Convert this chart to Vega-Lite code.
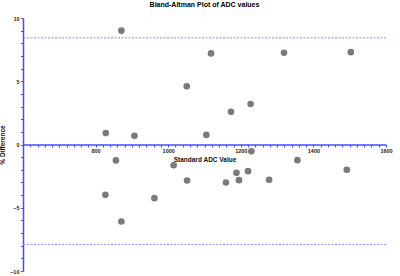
{
  "$schema": "https://vega.github.io/schema/vega-lite/v6.json",
  "width": 363,
  "height": 253,
  "autosize": {"type": "none"},
  "padding": {"left": 23, "top": 18, "right": 14, "bottom": 5},
  "background": "white",
  "config": {"view": {"stroke": null}, "font": "Liberation Sans"},
  "title": {"text": "Bland-Altman Plot of ADC values", "fontSize": 7, "fontWeight": "bold", "color": "#000000", "anchor": "middle", "offset": 8},
  "resolve": {"axis": {"y": "independent"}},
  "layer": [
    {
      "data": {"values": [{"limit": 8.43}, {"limit": -7.9}]},
      "mark": {"type": "rule", "stroke": "#8c8cff", "strokeDash": [2, 1.5], "strokeWidth": 1},
      "encoding": {"y": {"field": "limit", "type": "quantitative", "axis": null, "scale": {"domain": [-10, 10], "nice": false}}}
    },
    {
      "data": {"values": [
        {"x": 871, "y": 9.0}, {"x": 1051, "y": 4.6}, {"x": 828, "y": 0.9}, {"x": 907, "y": 0.69},
        {"x": 1118, "y": 7.2}, {"x": 1319, "y": 7.25}, {"x": 1503, "y": 7.3}, {"x": 1227, "y": 3.2},
        {"x": 1173, "y": 2.58}, {"x": 1105, "y": 0.76}, {"x": 856, "y": -1.26}, {"x": 1015, "y": -1.64},
        {"x": 1052, "y": -2.85}, {"x": 827, "y": -3.98}, {"x": 962, "y": -4.24}, {"x": 871, "y": -6.09},
        {"x": 1229, "y": -0.53}, {"x": 1356, "y": -1.24}, {"x": 1492, "y": -2.0}, {"x": 1220, "y": -2.11},
        {"x": 1188, "y": -2.24}, {"x": 1195, "y": -2.82}, {"x": 1159, "y": -3.0}, {"x": 1278, "y": -2.79}
      ]},
      "mark": {"type": "circle", "size": 44, "color": "#7a7a7a", "opacity": 1},
      "encoding": {
        "x": {"field": "x", "type": "quantitative", "scale": {"domain": [600, 1600], "nice": false, "zero": false},
          "axis": {"title": "Standard ADC Value", "orient": "bottom", "offset": -126.5, "grid": false,
            "values": [600,620,640,660,680,700,720,740,760,780,800,820,840,860,880,900,920,940,960,980,1000,1020,1040,1060,1080,1100,1120,1140,1160,1180,1200,1220,1240,1260,1280,1300,1320,1340,1360,1380,1400,1420,1440,1460,1480,1500,1520,1540,1560,1580,1600],
            "labelExpr": "datum.value % 200 == 0 && datum.value != 600 ? format(datum.value, 'd') : ''",
            "domainColor": "#4a4aff", "domainWidth": 1.5, "tickColor": "#4a4aff", "tickWidth": 1, "tickSize": 2.5,
            "labelFontSize": 5.5, "labelFontWeight": "bold", "labelColor": "#222222", "labelPadding": 1.5, "labelOverlap": false, "labelFlush": false,
            "titleFontSize": 6.5, "titleFontWeight": "bold", "titleColor": "#111111", "titlePadding": 2}},
        "y": {"field": "y", "type": "quantitative", "scale": {"domain": [-10, 10], "nice": false},
          "axis": {"title": "% Difference", "grid": false,
            "values": [-10,-9,-8,-7,-6,-5,-4,-3,-2,-1,0,1,2,3,4,5,6,7,8,9,10],
            "labelExpr": "datum.value % 5 == 0 ? format(datum.value, 'd') : ''",
            "domainColor": "#4a4aff", "domainWidth": 1.5, "tickColor": "#4a4aff", "tickWidth": 1, "tickSize": 2.5,
            "labelFontSize": 5.5, "labelFontWeight": "bold", "labelColor": "#222222", "labelPadding": 1.5, "labelOverlap": false, "labelFlush": false,
            "titleFontSize": 6.5, "titleFontWeight": "bold", "titleColor": "#111111", "titlePadding": 4}}
      }
    }
  ]
}
